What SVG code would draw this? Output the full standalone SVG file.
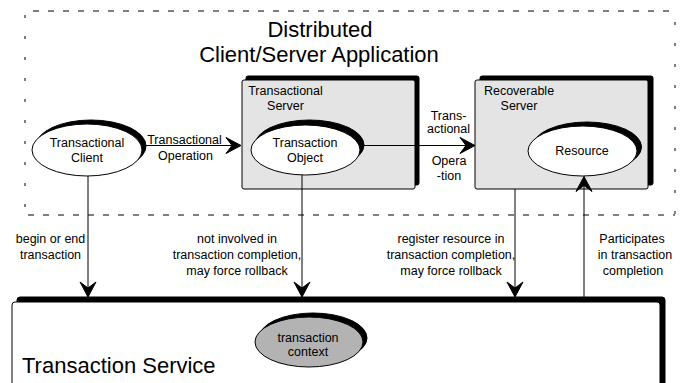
<svg xmlns="http://www.w3.org/2000/svg" width="681" height="383" viewBox="0 0 681 383">
  <style>
    text { font-family: "Liberation Sans", Arial, sans-serif; fill: #000; }
    .lbl { font-size: 12.5px; }
    .mid { text-anchor: middle; }
    .big { font-size: 22px; }
    .shadow { fill: #000; stroke: #000; stroke-width: 1; }
    .box { fill: #e4e4e4; stroke: #000; stroke-width: 1; }
    .oval { fill: #fff; stroke: #000; stroke-width: 1; }
    .ctx { fill: #b3b3b3; stroke: #000; stroke-width: 1; }
    .edge { fill: none; stroke: #000; stroke-width: 1; }
    .dash-h { fill: none; stroke: #000; stroke-width: 1; stroke-dasharray: 6 9; }
    .dash-v { fill: none; stroke: #000; stroke-width: 1; stroke-dasharray: 3 18; }
  </style>
  <defs>
    <marker id="head" markerUnits="userSpaceOnUse" markerWidth="20" markerHeight="20"
            viewBox="-17 -10 20 20" refX="0" refY="0" orient="auto" overflow="visible">
      <path d="M0,0 L-15,-8 L-9,0 L-15,8 Z" fill="#000" stroke="#000" stroke-width="1" stroke-linejoin="round"/>
    </marker>
  </defs>

  <rect width="681" height="383" fill="#fff"/>

  <!-- application boundary -->
  <g id="app-boundary">
    <line class="dash-h" x1="33" y1="11" x2="675" y2="11"/>
    <line class="dash-h" x1="28" y1="215" x2="675" y2="215"/>
    <line class="dash-v" x1="25" y1="15" x2="25" y2="207"/>
    <line class="dash-v" x1="675" y1="22" x2="675" y2="215"/>
    <text class="big mid" x="320" y="37">Distributed</text>
    <text class="big mid" x="319" y="62">Client/Server Application</text>
  </g>

  <!-- transaction service -->
  <g id="transaction-service">
    <rect class="shadow" x="17" y="297" width="648" height="100" rx="3"/>
    <rect x="12" y="302" width="648" height="100" rx="3" fill="#fff" stroke="#000" stroke-width="1"/>
    <text class="big" x="22" y="373">Transaction Service</text>
  </g>

  <g id="transaction-context">
    <ellipse class="shadow" cx="313" cy="338" rx="54" ry="25"/>
    <ellipse class="ctx" cx="309" cy="342" rx="54" ry="25"/>
    <text class="lbl mid" x="308" y="342">transaction</text>
    <text class="lbl mid" x="308" y="356">context</text>
  </g>

  <!-- transactional server -->
  <g id="transactional-server">
    <rect class="shadow" x="246" y="76" width="173" height="109" rx="2"/>
    <rect class="box" x="242" y="80" width="173" height="109" rx="2"/>
    <text class="lbl mid" x="285.5" y="95">Transactional</text>
    <text class="lbl mid" x="285.5" y="110">Server</text>
  </g>

  <!-- recoverable server -->
  <g id="recoverable-server">
    <rect class="shadow" x="480" y="76" width="173" height="109" rx="2"/>
    <rect class="box" x="475" y="80" width="173" height="109" rx="2"/>
    <text class="lbl mid" x="519" y="95">Recoverable</text>
    <text class="lbl mid" x="519" y="110">Server</text>
  </g>

  <g id="transactional-client">
    <ellipse class="shadow" cx="91" cy="146" rx="55" ry="26"/>
    <ellipse class="oval" cx="87" cy="150" rx="55" ry="26"/>
    <text class="lbl mid" x="87" y="147">Transactional</text>
    <text class="lbl mid" x="87" y="162">Client</text>
  </g>

  <g id="transaction-object">
    <ellipse class="shadow" cx="309.5" cy="145" rx="54.5" ry="25"/>
    <ellipse class="oval" cx="305.5" cy="150" rx="54.5" ry="25"/>
    <text class="lbl mid" x="305" y="147">Transaction</text>
    <text class="lbl mid" x="305" y="162">Object</text>
  </g>

  <g id="resource">
    <ellipse class="shadow" cx="587" cy="147" rx="54.5" ry="25"/>
    <ellipse class="oval" cx="582.5" cy="151" rx="54.5" ry="25"/>
    <text class="lbl mid" x="582" y="155">Resource</text>
  </g>

  <!-- connectors -->
  <g id="connectors">
    <line class="edge" x1="142" y1="145.5" x2="241" y2="145.5" marker-end="url(#head)"/>
    <line class="edge" x1="360" y1="145.5" x2="475" y2="145.5" marker-end="url(#head)"/>
    <line class="edge" x1="88" y1="176" x2="88" y2="297" marker-end="url(#head)"/>
    <line class="edge" x1="302" y1="175" x2="302" y2="297" marker-end="url(#head)"/>
    <line class="edge" x1="515" y1="189" x2="515" y2="297" marker-end="url(#head)"/>
    <line class="edge" x1="584" y1="297" x2="584" y2="176.5" marker-end="url(#head)"/>
  </g>

  <!-- connector labels -->
  <g id="edge-labels">
    <text class="lbl mid" x="184.5" y="144">Transactional</text>
    <text class="lbl mid" x="185.5" y="160">Operation</text>
    <text class="lbl mid" x="448.5" y="120">Trans-</text>
    <text class="lbl mid" x="448.5" y="133">actional</text>
    <text class="lbl mid" x="449" y="165">Opera</text>
    <text class="lbl mid" x="449" y="180">-tion</text>
    <text class="lbl mid" x="50.5" y="243">begin or end</text>
    <text class="lbl mid" x="50.5" y="259">transaction</text>
    <text class="lbl mid" x="237" y="243">not involved in</text>
    <text class="lbl mid" x="237" y="259">transaction completion,</text>
    <text class="lbl mid" x="237" y="275">may force rollback</text>
    <text class="lbl mid" x="451" y="243">register resource in</text>
    <text class="lbl mid" x="451" y="259">transaction completion,</text>
    <text class="lbl mid" x="451" y="275">may force rollback</text>
    <text class="lbl mid" x="632" y="243">Participates</text>
    <text class="lbl mid" x="635" y="259">in transaction</text>
    <text class="lbl mid" x="633" y="275">completion</text>
  </g>
</svg>
